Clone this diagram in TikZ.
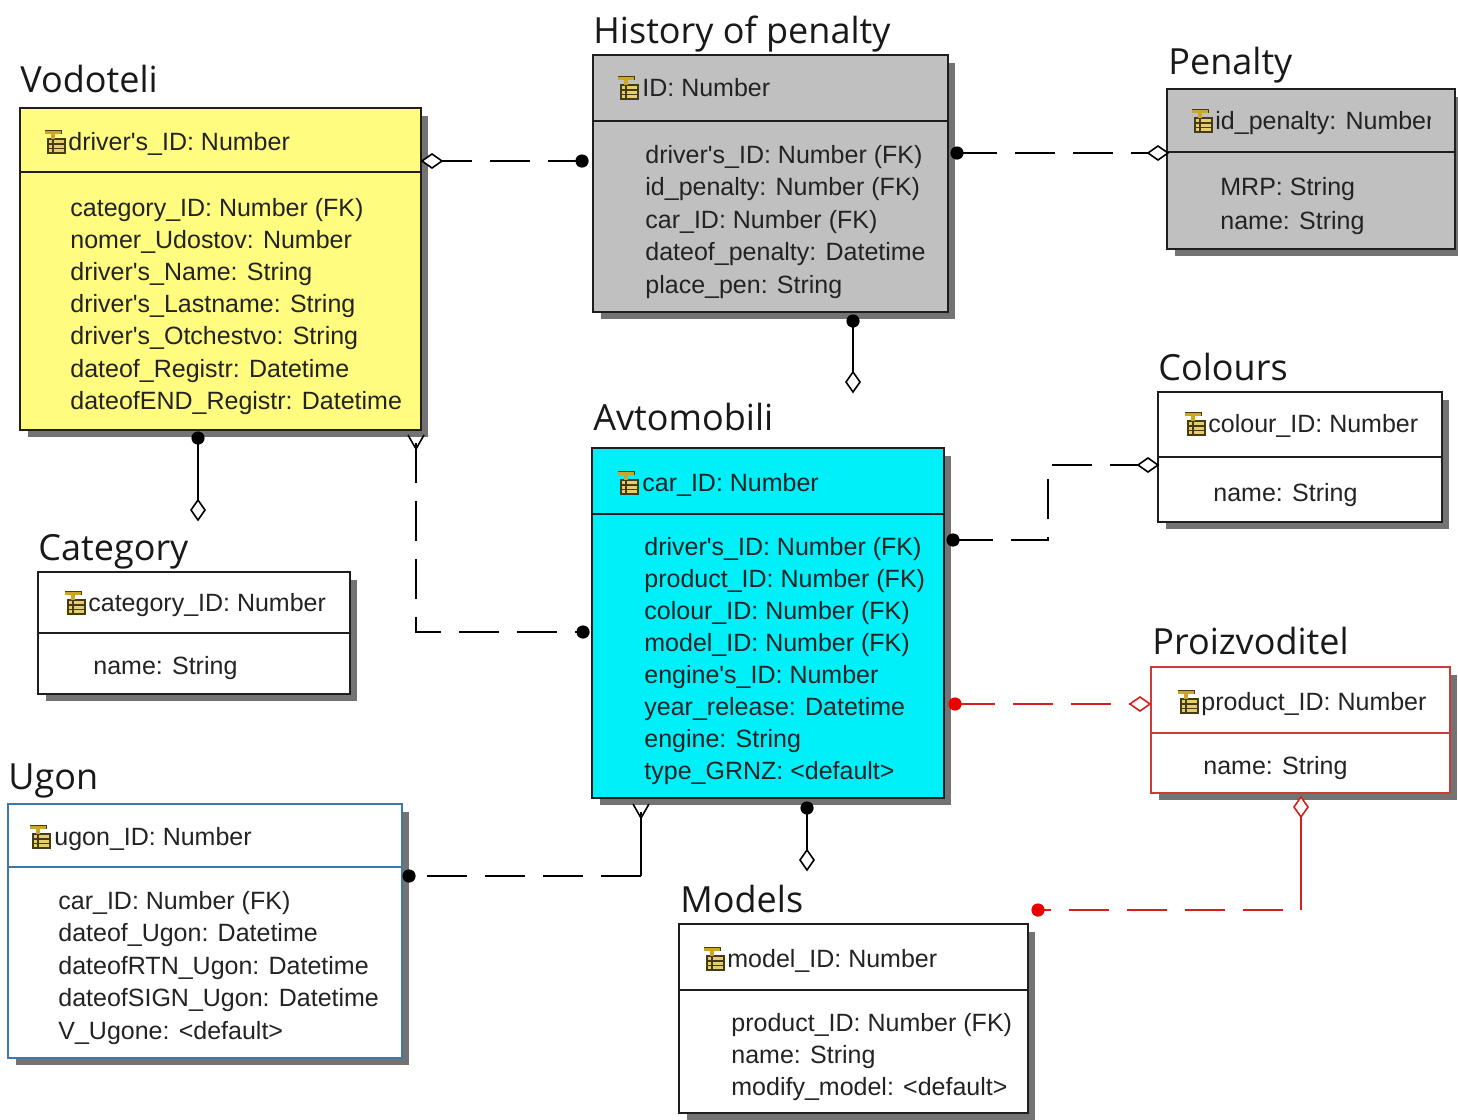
\documentclass[tikz,border=0pt]{standalone}
\usepackage{fontspec}
\setmainfont{Liberation Sans}
\newfontfamily\titlefont{Open Sans}
\usetikzlibrary{fit}
\definecolor{vodfill}{RGB}{255,252,128}
\definecolor{grayfill}{RGB}{192,192,192}
\definecolor{cyanfill}{RGB}{0,240,250}
\definecolor{framecol}{RGB}{30,30,30}
\definecolor{redframe}{RGB}{200,60,60}
\definecolor{blueframe}{RGB}{60,120,170}
\definecolor{shadcol}{RGB}{115,115,115}
\definecolor{txtcol}{RGB}{35,35,35}
\definecolor{ttlcol}{RGB}{25,25,25}
\definecolor{relred}{RGB}{215,30,30}
\definecolor{dotred}{RGB}{235,0,0}
\definecolor{icongold}{RGB}{205,165,40}
\definecolor{iconbody}{RGB}{230,205,110}
\definecolor{icondark}{RGB}{70,60,20}
\newcommand\ap{\textquotesingle}
\tikzset{
  attr/.style={anchor=base west, inner sep=0pt, font=\fontsize{12.5}{15}\selectfont, text=txtcol},
  ttl/.style={anchor=base west, inner sep=0pt, font=\titlefont\fontsize{18}{22}\selectfont, text=ttlcol},
  dashline/.style={line width=1pt, dash pattern=on 20pt off 9pt},
  solidline/.style={line width=0.8pt},
}
\newcommand\erbox[8]{% name,x1,y1,x2,y2,ydiv,fill,frame
  \fill[shadcol] (#2+8,#5) rectangle (#4+7,#5+7);
  \fill[shadcol] (#4,#3+8) rectangle (#4+7,#5+7);
  \node[fit={(#2,#3) (#4,#5)}, inner sep=0pt, fill=#7, draw=#8, line width=1pt] (#1) {};
  \draw[#8, line width=1pt] (#1.west |- 0,#6) -- (#1.east |- 0,#6);
}
\newcommand\keyicon[2]{%
  \begin{scope}[shift={(#1,#2)}]
    \fill[iconbody] (3,-3) rectangle (20,11);
    \draw[icondark, line width=0.6pt] (3,-3) rectangle (20,11);
    \draw[icondark, line width=0.6pt] (3,2) -- (20,2) (3,6.5) -- (20,6.5) (8,-3) -- (8,11);
    \fill[icongold] (0,-12) rectangle (16,-8);
    \fill[icongold] (6,-12) rectangle (10,-3);
    \draw[icondark, line width=0.4pt] (0,-12) -- (16,-12) -- (16,-8);
  \end{scope}}
\newcommand\attrlist[5]{%
  \foreach \t [count=\i from 1] in {#5} {\node[attr] (#1-\i) at (#2, #3+\i*#4-#4+8) {\t};}}
\newcommand\hdiam[2][black]{\draw[#1, fill=white, line width=0.8pt] (#2) +(-10,0) -- +(0,-7) -- +(10,0) -- +(0,7) -- cycle;}
\newcommand\vdiam[2][black]{\draw[#1, fill=white, line width=0.8pt] (#2) +(0,-10) -- +(7,0) -- +(0,10) -- +(-7,0) -- cycle;}
\newcommand\fkdot[2][black]{\fill[#1] (#2) circle (3.3pt);}
\newcommand\yfoot[1]{\draw[line width=0.8pt] (#1) +(-8,-8) -- +(0,6) -- +(8,-8);}
\begin{document}
\begin{tikzpicture}[x=0.5pt,y=-0.5pt]
\useasboundingbox (0,0) rectangle (1458,1120);
\fill[white] (0,0) rectangle (1458,1120);

% ---------- Vodoteli
\node[ttl] (vodt) at (20,92) {Vodoteli};
\erbox{vod}{20}{108}{421}{430}{172}{vodfill}{framecol}
\keyicon{45}{142}
\node[attr] (vodh) at (68,150) {driver\ap s\_ID: Number};
\attrlist{voda}{70}{208}{32.2}{category\_ID: Number (FK), nomer\_Udostov: Number, driver\ap s\_Name: String, driver\ap s\_Lastname: String, driver\ap s\_Otchestvo: String, dateof\_Registr: Datetime, dateofEND\_Registr: Datetime}

% ---------- History of penalty
\node[ttl] (hist) at (593,43) {History of penalty};
\erbox{his}{593}{55}{948}{312}{121}{grayfill}{framecol}
\keyicon{618}{88}
\node[attr] (hish) at (642,96) {ID: Number};
\attrlist{hisa}{645}{155}{32.5}{driver\ap s\_ID: Number (FK), id\_penalty: Number (FK), car\_ID: Number (FK), dateof\_penalty: Datetime, place\_pen: String}

% ---------- Penalty
\node[ttl] (pent) at (1168,74) {Penalty};
\erbox{pen}{1167}{89}{1455}{249}{152}{grayfill}{framecol}
\keyicon{1192}{121}
\begin{scope}
  \clip (1167,89) rectangle (1430,152);
  \node[attr] (penh) at (1215,129) {id\_penalty: Number};
\end{scope}
\attrlist{pena}{1220}{187}{34}{MRP: String, name: String}

% ---------- Category
\node[ttl] (catt) at (38,560) {Category};
\erbox{cat}{38}{572}{350}{694}{633}{white}{framecol}
\keyicon{65}{603}
\node[attr] (cath) at (88,611) {category\_ID: Number};
\attrlist{cata}{93}{666}{32}{name: String}

% ---------- Avtomobili
\node[ttl] (avtt) at (593,430) {Avtomobili};
\erbox{avt}{592}{448}{944}{798}{514}{cyanfill}{framecol}
\keyicon{618}{483}
\node[attr] (avth) at (642,491) {car\_ID: Number};
\attrlist{avta}{644}{547}{32}{driver\ap s\_ID: Number (FK), product\_ID: Number (FK), colour\_ID: Number (FK), model\_ID: Number (FK), engine\ap s\_ID: Number, year\_release: Datetime, engine: String, type\_GRNZ: <default>}

% ---------- Colours
\node[ttl] (colt) at (1158,380) {Colours};
\erbox{col}{1158}{392}{1442}{522}{457}{white}{framecol}
\keyicon{1185}{424}
\node[attr] (colh) at (1208,432) {colour\_ID: Number};
\attrlist{cola}{1213}{493}{32}{name: String}

% ---------- Proizvoditel
\node[ttl] (prot) at (1152,654) {Proizvoditel};
\erbox{pro}{1151}{667}{1450}{793}{733}{white}{redframe}
\keyicon{1178}{702}
\node[attr] (proh) at (1201,710) {product\_ID: Number};
\attrlist{proa}{1203}{766}{32}{name: String}

% ---------- Ugon
\node[ttl] (ugot) at (8,789) {Ugon};
\erbox{ugo}{8}{804}{402}{1058}{867}{white}{blueframe}
\keyicon{30}{837}
\node[attr] (ugoh) at (54,845) {ugon\_ID: Number};
\attrlist{ugoa}{58}{901}{32.5}{car\_ID: Number (FK), dateof\_Ugon: Datetime, dateofRTN\_Ugon: Datetime, dateofSIGN\_Ugon: Datetime, V\_Ugone: <default>}

% ---------- Models
\node[ttl] (modt) at (680,912) {Models};
\erbox{mod}{679}{924}{1028}{1113}{990}{white}{framecol}
\keyicon{704}{959}
\node[attr] (modh) at (727,967) {model\_ID: Number};
\attrlist{moda}{731}{1023}{32}{product\_ID: Number (FK), name: String, modify\_model: <default>}

% ---------- connectors
% Vodoteli - History
\coordinate (d1) at (432,161);
\coordinate (p1) at (582,161);
\draw[dashline] (d1) -- (p1);
\hdiam{d1} \fkdot{p1}
% History - Penalty
\coordinate (p2) at (957,153);
\coordinate (d2) at (1158,153);
\draw[dashline] (p2) -- (d2);
\fkdot{p2} \hdiam{d2}
% History bottom
\coordinate (p3) at (853,321);
\coordinate (d3) at (853,382);
\draw[solidline] (p3) -- (d3);
\fkdot{p3} \vdiam{d3}
% Vodoteli - Category
\coordinate (p4) at (198,438);
\coordinate (d4) at (198,510);
\draw[solidline] (p4) -- (d4);
\fkdot{p4} \vdiam{d4}
% Vodoteli - Avtomobili
\coordinate (y5) at (416,443);
\coordinate (k5) at (416,632);
\coordinate (p5) at (583,632);
\draw[dashline] (y5) -- (k5) -- (p5);
\yfoot{y5} \fkdot{p5}
% Avtomobili - Colours
\coordinate (p6) at (953,540);
\coordinate (k6a) at (1048,540);
\coordinate (k6b) at (1048,465);
\coordinate (d6) at (1148,465);
\draw[dashline] (p6) -- (k6a) -- (k6b) -- (d6);
\fkdot{p6} \hdiam{d6}
% Avtomobili - Proizvoditel
\coordinate (p7) at (955,704);
\coordinate (d7) at (1140,704);
\draw[dashline, relred] (p7) -- (d7);
\fkdot[dotred]{p7} \hdiam[relred]{d7}
% Avtomobili - Models
\coordinate (p8) at (807,808);
\coordinate (d8) at (807,860);
\draw[solidline] (p8) -- (d8);
\fkdot{p8} \vdiam{d8}
% Avtomobili - Ugon
\coordinate (y9) at (641,812);
\coordinate (k9) at (641,876);
\coordinate (p9) at (409,876);
\draw[solidline] (y9) -- (k9);
\draw[dashline] (k9) -- (p9);
\yfoot{y9} \fkdot{p9}
% Proizvoditel - Models
\coordinate (d10) at (1301,807);
\coordinate (k10) at (1301,910);
\coordinate (p10) at (1038,910);
\draw[solidline, relred] (d10) -- (1301,870);
\draw[dashline, relred] (1301,870) -- (k10) -- (p10);
\vdiam[relred]{d10} \fkdot[dotred]{p10}
\end{tikzpicture}
\end{document}
